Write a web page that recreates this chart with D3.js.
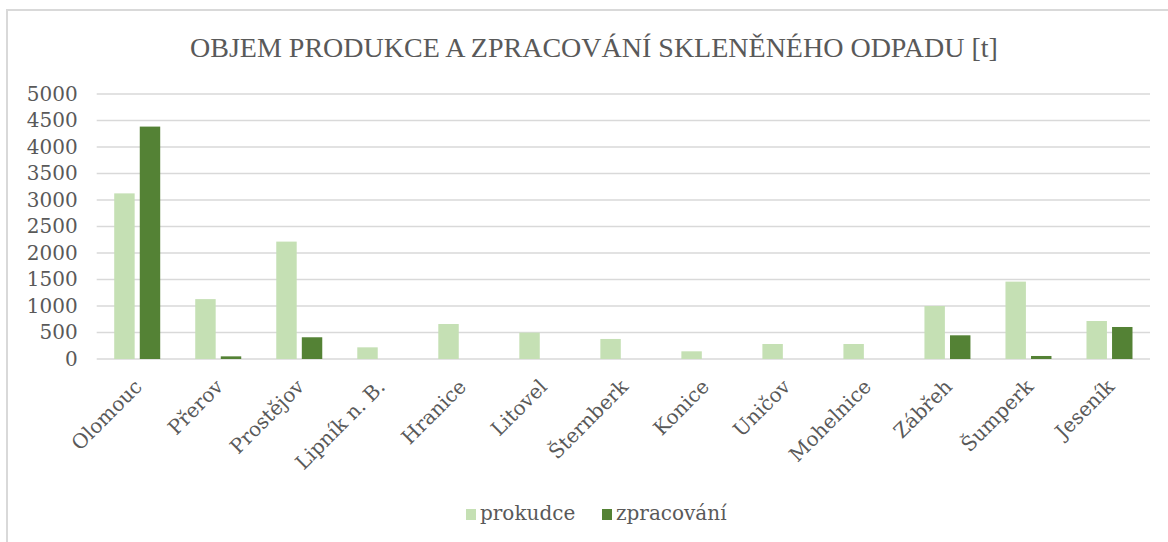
<!DOCTYPE html>
<html>
<head>
<meta charset="utf-8">
<script src="https://cdn.jsdelivr.net/npm/d3@7"></script>
<style>
  body { margin: 0; background: #fff; }
  svg text { fill: #595959; font-family: "DejaVu Serif", serif; }
</style>
</head>
<body>
<div id="chart"></div>
<script>
// data
const cities = ['Olomouc', 'Přerov', 'Prostějov', 'Lipník n. B.', 'Hranice', 'Litovel',
    'Šternberk', 'Konice', 'Uničov', 'Mohelnice', 'Zábřeh', 'Šumperk', 'Jeseník'];
const prokudce = [3125, 1130, 2215, 220, 660, 497, 378, 145, 283, 283, 1000, 1460, 717];
const zpracovani = [4385, 50, 410, 0, 0, 0, 0, 0, 0, 0, 447, 57, 604];
const seriesNames = ['prokudce', 'zpracování'];
const seriesColors = ['#c5e0b4', '#548235'];
const yTicks = [0, 500, 1000, 1500, 2000, 2500, 3000, 3500, 4000, 4500, 5000];

const width = 1168, height = 542;
const plotLeft = 96.7, plotRight = 1150, plotTop = 94, plotBottom = 359;

const svg = d3.select('#chart').append('svg')
    .attr('width', width)
    .attr('height', height);

// chart frame
svg.append('rect')
    .attr('x', 7).attr('y', 10)
    .attr('width', 1200).attr('height', 600)
    .attr('fill', 'none')
    .attr('stroke', '#d9d9d9')
    .attr('stroke-width', 2);

svg.append('text')
    .attr('x', 594).attr('y', 57)
    .attr('text-anchor', 'middle')
    .style('font-family', '"Liberation Serif", serif')
    .style('font-size', '28px')
    .text('OBJEM PRODUKCE A ZPRACOVÁNÍ SKLENĚNÉHO ODPADU [t]');

const x = d3.scaleBand().domain(cities).range([plotLeft, plotRight]);
const y = d3.scaleLinear().domain([0, 5000]).range([plotBottom, plotTop]);

// gridlines
svg.append('g')
    .selectAll('line')
    .data(yTicks)
    .enter()
    .append('line')
    .attr('x1', plotLeft).attr('x2', plotRight)
    .attr('y1', d => y(d)).attr('y2', d => y(d))
    .attr('stroke', '#d9d9d9')
    .attr('stroke-width', 1.5);

// y axis labels
const yAxis = svg.append('g')
    .attr('transform', `translate(${plotLeft}, 0)`)
    .call(d3.axisLeft(y).tickValues(yTicks).tickFormat(d3.format('d')).tickSize(0).tickPadding(19));
yAxis.select('.domain').remove();
yAxis.selectAll('text')
    .style('font-size', '20px')
    .style('font-family', '"DejaVu Serif", serif')
    .attr('fill', '#595959');

// bars
const sub = d3.scaleBand().domain([0, 1]).range([0, 46]).paddingInner(0.2);
const groups = svg.append('g')
    .selectAll('g')
    .data(cities)
    .enter()
    .append('g')
    .attr('transform', d => `translate(${x(d) + x.bandwidth() / 2 - 23}, 0)`);

groups.selectAll('rect')
    .data((d, i) => [prokudce[i], zpracovani[i]])
    .enter()
    .append('rect')
    .attr('x', (d, i) => sub(i))
    .attr('width', sub.bandwidth())
    .attr('y', d => y(d))
    .attr('height', d => y(0) - y(d))
    .attr('fill', (d, i) => seriesColors[i]);

// x labels
svg.append('g')
    .selectAll('text')
    .data(cities)
    .enter()
    .append('text')
    .attr('transform', d => `translate(${x(d) + x.bandwidth() / 2 + 6}, 388) rotate(-45)`)
    .attr('text-anchor', 'end')
    .style('font-size', '20px')
    .text(d => d);

// legend
const legendX = [466, 602];
const legend = svg.append('g')
    .selectAll('g')
    .data(seriesNames)
    .enter()
    .append('g')
    .attr('transform', (d, i) => `translate(${legendX[i]}, 520)`);
legend.append('rect')
    .attr('x', 0).attr('y', -11)
    .attr('width', 10).attr('height', 11)
    .attr('fill', (d, i) => seriesColors[i]);
legend.append('text')
    .attr('x', 14).attr('y', 0)
    .style('font-size', '20px')
    .text(d => d);
</script>
</body>
</html>
